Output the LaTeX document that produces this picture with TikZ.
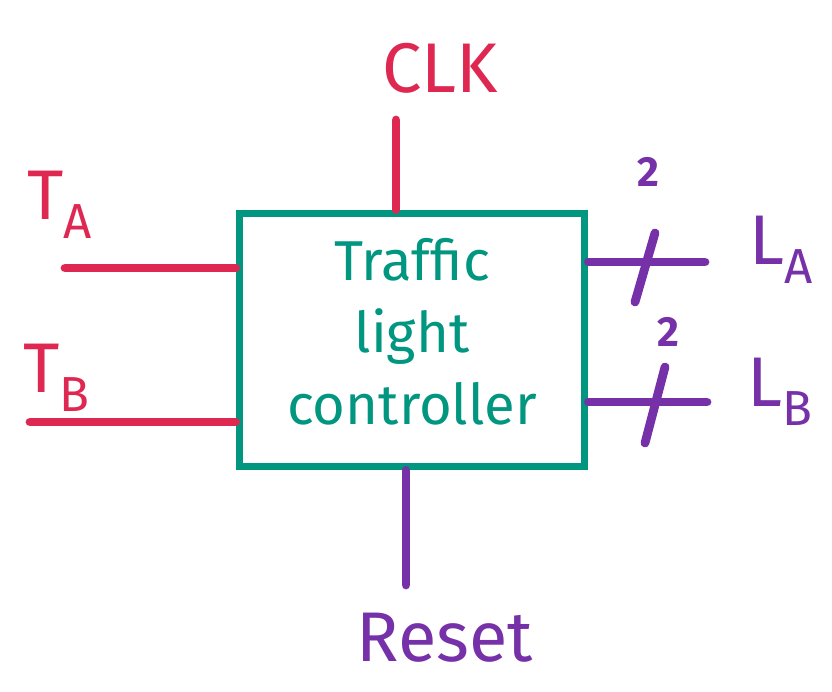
\documentclass[tikz,border=0pt]{standalone}
\usepackage{fontspec}
\setmainfont{Fira Sans}
\definecolor{mred}{RGB}{222,40,82}
\definecolor{mteal}{RGB}{0,150,128}
\definecolor{mpurple}{RGB}{118,48,168}
\begin{document}
\begin{tikzpicture}[x=0.02cm, y=-0.02cm,
		b/.style = {rectangle,	draw=mteal,	line width=4.5pt, minimum width=6.9cm, minimum height=5.06cm, inner sep=0pt,
					text=mteal, align=center, font=\fontsize{32}{41}\selectfont},
		l/.style = {font=\fontsize{40}{44}\selectfont},
		w/.style = {text=mpurple, font=\fontsize{24}{26}\selectfont\bfseries},
		r/.style = {line width=5pt, line cap=round}
		]
		\useasboundingbox (0,0) rectangle (832,692);
		
		%Nodes
		\node[b]	(ctrl)	at	(412, 340)	{\\[-26pt]Traffic\\light\\controller};
		
		\node[l, text=mred]		(clk)	at	(440, 68)	{CLK};
		\node[l, text=mred]		(ta)	at	(60, 205)	{T\textsubscript{A}};
		\node[l, text=mred]		(tb)	at	(57, 378)	{T\textsubscript{B}};
		\node[l, text=mpurple]	(la)	at	(782, 250)	{L\textsubscript{A}};
		\node[l, text=mpurple]	(lb)	at	(780, 392)	{L\textsubscript{B}};
		\node[l, text=mpurple]	(rst)	at	(445, 638)	{Reset};
		\node[w]	(wa)	at	(648, 172)	{2};
		\node[w]	(wb)	at	(668, 332)	{2};
		
		\coordinate	(c0)	at	(396, 120);
		\coordinate	(a0)	at	(65, 268);
		\coordinate	(b0)	at	(30, 422);
		\coordinate	(la0)	at	(705, 262);
		\coordinate	(lb0)	at	(707, 402);
		\coordinate	(r0)	at	(406, 585);
		\coordinate	(ka1)	at	(655, 233);
		\coordinate	(ka2)	at	(635, 302);
		\coordinate	(kb1)	at	(665, 367);
		\coordinate	(kb2)	at	(645, 443);
		
		%Lines
		\draw[r, mred]		(c0)	--	(c0 |- ctrl.north);
		\draw[r, mred]		(a0)	--	(a0 -| ctrl.west);
		\draw[r, mred]		(b0)	--	(b0 -| ctrl.west);
		\draw[r, mpurple]	(la0 -| ctrl.east)	--	(la0);
		\draw[r, mpurple]	(lb0 -| ctrl.east)	--	(lb0);
		\draw[r, mpurple]	(r0 |- ctrl.south)	--	(r0);
		
		% bus ticks
		\draw[r, mpurple]	(ka1)	--	(ka2);
		\draw[r, mpurple]	(kb1)	--	(kb2);
	\end{tikzpicture}
\end{document}
